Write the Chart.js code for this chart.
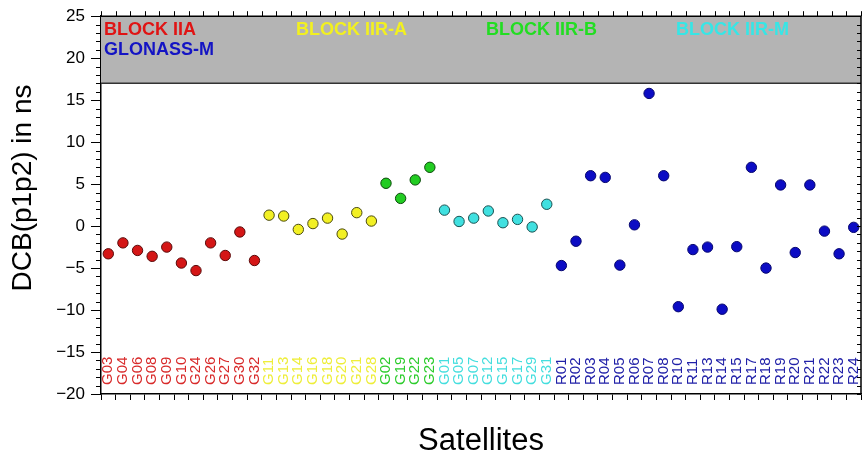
<!DOCTYPE html>
<html>
<head>
<meta charset="utf-8">
<script src="https://cdn.jsdelivr.net/npm/chart.js@4/dist/chart.umd.min.js"></script>
<style>
  html, body { margin: 0; padding: 0; background: #fff; }
  canvas { display: block; }
</style>
</head>
<body>
<canvas id="c" width="862" height="459"></canvas>
<script>
// Satellite groups and their P1-P2 differential code biases (ns)
const blockIIA      = ['G03','G04','G06','G08','G09','G10','G24','G26','G27','G30','G32'];
const blockIIA_dcb  = [-3.3, -2.0, -2.9, -3.6, -2.5, -4.4, -5.3, -2.0, -3.5, -0.7, -4.1];

const blockIIRA     = ['G11','G13','G14','G16','G18','G20','G21','G28'];
const blockIIRA_dcb = [1.3, 1.2, -0.4, 0.3, 0.95, -0.95, 1.6, 0.6];

const blockIIRB     = ['G02','G19','G22','G23'];
const blockIIRB_dcb = [5.1, 3.3, 5.5, 7.0];

const blockIIRM     = ['G01','G05','G07','G12','G15','G17','G29','G31'];
const blockIIRM_dcb = [1.9, 0.55, 0.95, 1.8, 0.4, 0.8, -0.1, 2.6];

const glonassM      = ['R01','R02','R03','R04','R05','R06','R07','R08','R10','R11','R13',
                       'R14','R15','R17','R18','R19','R20','R21','R22','R23','R24'];
const glonassM_dcb  = [-4.7, -1.8, 6.0, 5.8, -4.65, 0.15, 15.8, 6.0, -9.6, -2.8, -2.5,
                       -9.9, -2.45, 7.0, -5.0, 4.9, -3.15, 4.9, -0.6, -3.3, -0.15];

const groupNames = ['BLOCK IIA', 'BLOCK IIR-A', 'BLOCK IIR-B', 'BLOCK IIR-M', 'GLONASS-M'];
const yTickValues = [-20, -15, -10, -5, 0, 5, 10, 15, 20, 25];

const FONT = '"Liberation Sans", Arial, Helvetica, sans-serif';

const groups = [
  { name: groupNames[0], sats: blockIIA,  dcb: blockIIA_dcb,  fill: '#d41616', edge: '#5a0a0a', text: '#d82a2a', head: '#e01414' },
  { name: groupNames[1], sats: blockIIRA, dcb: blockIIRA_dcb, fill: '#f2f024', edge: '#4a4a10', text: '#eeee3a', head: '#f2f020' },
  { name: groupNames[2], sats: blockIIRB, dcb: blockIIRB_dcb, fill: '#22cc22', edge: '#0a4a0a', text: '#2ccc2c', head: '#22dd22' },
  { name: groupNames[3], sats: blockIIRM, dcb: blockIIRM_dcb, fill: '#40e0e0', edge: '#1a5050', text: '#44dede', head: '#36e6e6' },
  { name: groupNames[4], sats: glonassM,  dcb: glonassM_dcb,  fill: '#0c0cc4', edge: '#06066e', text: '#2020a8', head: '#1414c4' }
];

const satellites = [].concat(blockIIA, blockIIRA, blockIIRB, blockIIRM, glonassM);

const datasets = groups.map(g => ({
  label: g.name,
  data: g.sats.map((s, i) => ({ x: s, y: g.dcb[i] })),
  backgroundColor: g.fill,
  borderColor: g.edge,
  borderWidth: 1,
  pointRadius: 5.2,
  pointHoverRadius: 5.2,
  showLine: false
}));

// Band header, frame, minor ticks, rotated satellite labels and axis titles
const decorations = {
  id: 'decorations',
  beforeDatasetsDraw(chart) {
    const { ctx, chartArea: a, scales: { y } } = chart;
    const yTop = y.getPixelForValue(25), yBot = y.getPixelForValue(17);
    ctx.save();
    ctx.fillStyle = '#b4b4b4';
    ctx.fillRect(a.left, yTop, a.right - a.left, yBot - yTop);
    ctx.strokeStyle = '#333';
    ctx.lineWidth = 1.5;
    ctx.beginPath();
    ctx.moveTo(a.left, yBot);
    ctx.lineTo(a.right, yBot);
    ctx.stroke();

    ctx.font = 'bold 18px ' + FONT;
    ctx.textBaseline = 'alphabetic';
    ctx.textAlign = 'left';
    const heads = [
      [groups[0], 104, 35], [groups[4], 104, 55],
      [groups[1], 296, 35], [groups[2], 486, 35], [groups[3], 676, 35]
    ];
    heads.forEach(([g, x, yy]) => {
      ctx.fillStyle = g.head;
      ctx.fillText(g.name, x, yy);
    });
    ctx.restore();
  },
  afterDraw(chart) {
    const { ctx, chartArea: a, scales: { x, y } } = chart;
    ctx.save();
    ctx.strokeStyle = '#000';
    ctx.lineWidth = 1.5;
    ctx.beginPath();
    ctx.moveTo(a.left, a.top);
    ctx.lineTo(a.right, a.top);
    ctx.lineTo(a.right, a.bottom);
    ctx.stroke();

    // minor ticks on the value axis
    ctx.lineWidth = 1;
    ctx.beginPath();
    for (let v = -20; v <= 25; v++) {
      const py = Math.round(y.getPixelForValue(v)) + 0.5;
      ctx.moveTo(a.left - 5, py);
      ctx.lineTo(a.left, py);
      ctx.moveTo(a.right, py);
      ctx.lineTo(a.right - 4, py);
    }
    // ticks along the top edge at category boundaries
    const step = (a.right - a.left) / satellites.length;
    for (let i = 0; i <= satellites.length; i++) {
      const px = Math.round(a.left + i * step) + 0.5;
      ctx.moveTo(px, a.top - 5);
      ctx.lineTo(px, a.top);
    }
    ctx.stroke();

    // rotated satellite labels inside the plot, colored by group
    ctx.font = '15px ' + FONT;
    ctx.textAlign = 'left';
    ctx.textBaseline = 'middle';
    groups.forEach(g => {
      ctx.fillStyle = g.text;
      g.sats.forEach(s => {
        const px = x.getPixelForValue(satellites.indexOf(s));
        ctx.save();
        ctx.translate(px, a.bottom - 9);
        ctx.rotate(-Math.PI / 2);
        ctx.fillText(s, 0, 0);
        ctx.restore();
      });
    });

    // axis titles
    ctx.fillStyle = '#000';
    ctx.textAlign = 'center';
    ctx.textBaseline = 'alphabetic';
    ctx.font = '31px ' + FONT;
    ctx.fillText('Satellites', (a.left + a.right) / 2, 450);

    ctx.save();
    ctx.translate(31, 188);
    ctx.rotate(-Math.PI / 2);
    ctx.font = '28px ' + FONT;
    ctx.fillText('DCB(p1p2) in ns', 0, 0);
    ctx.restore();
    ctx.restore();
  }
};

new Chart(document.getElementById('c'), {
  type: 'scatter',
  data: { labels: satellites, datasets },
  options: {
    responsive: false,
    devicePixelRatio: 1,
    animation: false,
    layout: { autoPadding: false, padding: { top: 12, right: 1, left: 0, bottom: 0 } },
    plugins: { legend: { display: false }, tooltip: { enabled: false } },
    scales: {
      x: {
        type: 'category',
        labels: satellites,
        offset: true,
        grid: { display: true, drawOnChartArea: false, offset: true, tickLength: 6, color: '#000', lineWidth: 1 },
        border: { color: '#000', width: 1.5 },
        ticks: { display: false, autoSkip: false },
        afterFit(s) { s.height = 65; }
      },
      y: {
        type: 'linear',
        min: -20,
        max: 25,
        afterBuildTicks(s) { s.ticks = yTickValues.map(v => ({ value: v })); },
        ticks: {
          color: '#000',
          padding: 6,
          font: { family: FONT, size: 17 },
          callback: v => String(v).replace('-', '\u2212')
        },
        grid: { display: true, drawOnChartArea: false, tickLength: 10, color: '#000', lineWidth: 1 },
        border: { color: '#000', width: 1.5 },
        afterFit(s) { s.width = 101; }
      }
    }
  },
  plugins: [decorations]
});
</script>
</body>
</html>
